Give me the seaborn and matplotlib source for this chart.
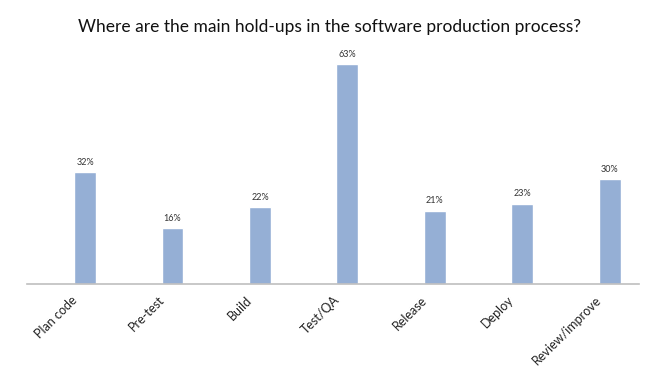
import matplotlib
matplotlib.use("Agg")
import matplotlib.pyplot as plt
import seaborn as sns
import pandas as pd

stages = ["Plan code", "Pre-test", "Build", "Test/QA", "Release", "Deploy", "Review/improve"]
share = [32, 16, 22, 63, 21, 23, 30]

df = pd.DataFrame({"stage": stages, "share": share})

sns.set_style("white")
plt.rcParams["font.family"] = ["Lato", "DejaVu Sans"]

fig = plt.figure(figsize=(6.6, 3.71), dpi=100)
ax = fig.add_axes([0.0409, 0.2345, 0.9273, 0.6577])

sns.barplot(data=df, x="stage", y="share", color="#95afd5", width=0.25,
            saturation=1, ax=ax)

for i, v in enumerate(share):
    ax.text(i, v + 1.6, f"{v}%", ha="center", va="bottom", fontsize=6.5, color="#333333")

# the category slots sit a little left of the bars, as in the original
shift = 0.164
ax.set_xlim(-0.5 - shift, len(stages) - 0.5 - shift)
ax.set_xticks([i - shift for i in range(len(stages))])
ax.set_xticklabels(stages)

ax.set_ylim(0, 70)
ax.set_xlabel("")
ax.set_ylabel("")
ax.set_yticks([])
sns.despine(ax=ax, left=True, top=True, right=True)
ax.spines["bottom"].set_color("#bfbfbf")
ax.spines["bottom"].set_linewidth(1.2)
ax.tick_params(axis="x", length=0, pad=7)
plt.setp(ax.get_xticklabels(), rotation=45, ha="right", rotation_mode="anchor",
         fontsize=9, color="#222222")

fig.suptitle("Where are the main hold-ups in the software production process?",
             y=0.95, fontsize=12.5, color="#111111")

fig.savefig("out.png", dpi=100)
